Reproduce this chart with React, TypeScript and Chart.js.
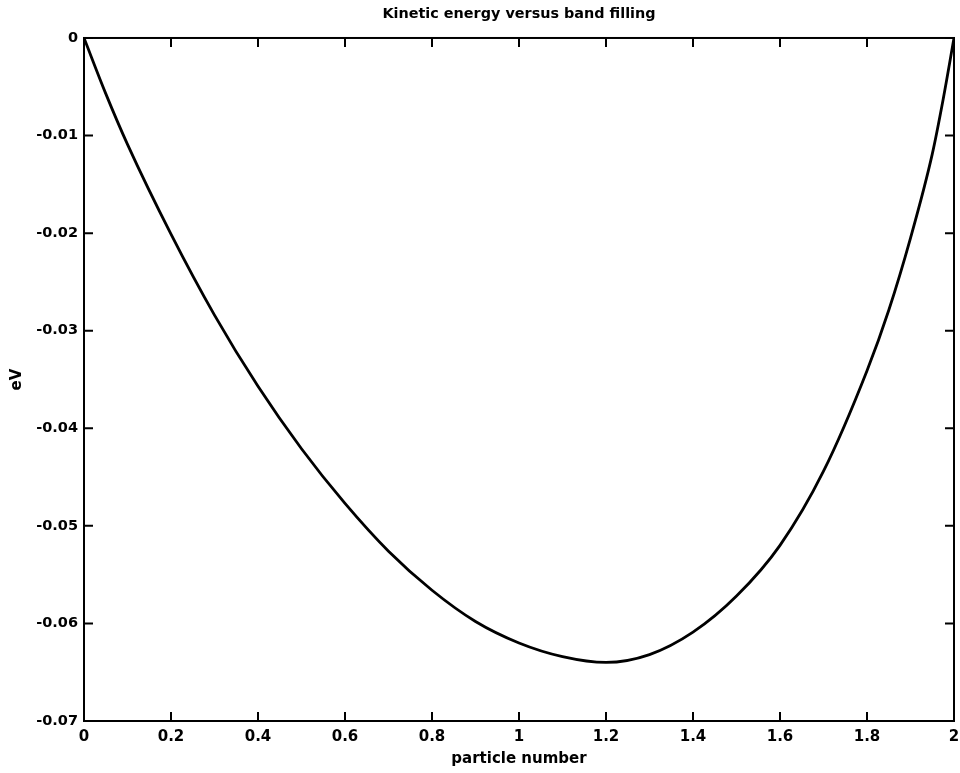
import { useEffect, useRef } from "react";
import { Chart, registerables } from "chart.js";

Chart.register(...registerables);

// Band filling (particles per site) and the kinetic energy per site in eV
const particleNumber = [
  0, 0.05, 0.1, 0.2, 0.3, 0.4, 0.5, 0.6, 0.7, 0.8, 0.9, 1.0, 1.1, 1.2, 1.3,
  1.4, 1.5, 1.6, 1.7, 1.8, 1.85, 1.9, 1.95, 1.975, 2.0,
];
const kineticEnergy = [
  0, -0.0057, -0.0109, -0.0201, -0.0284, -0.0357, -0.0421, -0.0477, -0.0526,
  -0.0566, -0.0598, -0.062, -0.0634, -0.064, -0.0632, -0.0609, -0.0572,
  -0.052, -0.0444, -0.0341, -0.0279, -0.0205, -0.0119, -0.0063, 0,
];

const xTickValues = [0, 0.2, 0.4, 0.6, 0.8, 1, 1.2, 1.4, 1.6, 1.8, 2];
const xTickLabels = ["0", "0.2", "0.4", "0.6", "0.8", "1", "1.2", "1.4", "1.6", "1.8", "2"];
const yTickValues = [-0.07, -0.06, -0.05, -0.04, -0.03, -0.02, -0.01, 0];
const yTickLabels = ["-0.07", "-0.06", "-0.05", "-0.04", "-0.03", "-0.02", "-0.01", "0"];

const FONT = "'DejaVu Sans', sans-serif";

// Boxed axes with inward tick marks on all four sides
const boxFrame = {
  id: "boxFrame",
  afterDatasetsDraw(chart: any) {
    const { ctx, chartArea, scales } = chart;
    const { left, right, top, bottom } = chartArea;
    const len = 9;
    ctx.save();
    ctx.strokeStyle = "#000";
    ctx.lineWidth = 2;
    ctx.strokeRect(left, top, right - left, bottom - top);
    ctx.beginPath();
    xTickValues.forEach((v) => {
      const px = scales.x.getPixelForValue(v);
      ctx.moveTo(px, bottom);
      ctx.lineTo(px, bottom - len);
      ctx.moveTo(px, top);
      ctx.lineTo(px, top + len);
    });
    yTickValues.forEach((v) => {
      const py = scales.y.getPixelForValue(v);
      ctx.moveTo(left, py);
      ctx.lineTo(left + len, py);
      ctx.moveTo(right, py);
      ctx.lineTo(right - len, py);
    });
    ctx.stroke();
    ctx.restore();
  },
};

export default function App() {
  const canvasRef = useRef<HTMLCanvasElement | null>(null);

  useEffect(() => {
    document.body.style.margin = "0";
    const canvas = canvasRef.current;
    if (!canvas) return;
    const chart = new Chart(canvas, {
      type: "line",
      data: {
        datasets: [
          {
            data: particleNumber.map((x, i) => ({ x, y: kineticEnergy[i] })),
            borderColor: "#000",
            borderWidth: 2.8,
            pointRadius: 0,
            fill: false,
            cubicInterpolationMode: "monotone",
          },
        ],
      },
      options: {
        animation: false,
        responsive: true,
        maintainAspectRatio: false,
        layout: { padding: 0 },
        plugins: {
          legend: { display: false },
          tooltip: { enabled: false },
          title: {
            display: true,
            text: "Kinetic energy versus band filling",
            color: "#000",
            fullSize: false,
            font: { family: FONT, size: 14.4, weight: "bold" },
            padding: { top: 5.4, bottom: 15.3 },
          },
        },
        scales: {
          x: {
            type: "linear",
            min: 0,
            max: 2,
            afterBuildTicks: (scale: any) => {
              scale.ticks = xTickValues.map((value) => ({ value }));
            },
            afterFit: (scale: any) => {
              scale.height = 52;
              scale.paddingLeft = 0;
              scale.paddingRight = 6;
            },
            grid: { display: false, drawTicks: false },
            border: { display: false },
            ticks: {
              color: "#000",
              padding: 7,
              maxRotation: 0,
              autoSkip: false,
              font: { family: FONT, size: 15, weight: "bold" },
              callback: (_v: any, i: number) => xTickLabels[i],
            },
            title: {
              display: true,
              text: "particle number",
              color: "#000",
              font: { family: FONT, size: 15, weight: "bold" },
              padding: { top: 0, bottom: 5 },
            },
          },
          y: {
            type: "linear",
            min: -0.07,
            max: 0,
            afterBuildTicks: (scale: any) => {
              scale.ticks = yTickValues.map((value) => ({ value }));
            },
            afterFit: (scale: any) => {
              scale.width = 84;
              scale.paddingTop = 0;
              scale.paddingBottom = 0;
            },
            grid: { display: false, drawTicks: false },
            border: { display: false },
            ticks: {
              color: "#000",
              padding: 6,
              autoSkip: false,
              font: { family: FONT, size: 14.5, weight: "bold" },
              callback: (_v: any, i: number) => yTickLabels[i],
            },
            title: {
              display: true,
              text: "eV",
              color: "#000",
              font: { family: FONT, size: 15, weight: "bold" },
              padding: { top: 8, bottom: 0 },
            },
          },
        },
      },
      plugins: [boxFrame],
    });
    return () => chart.destroy();
  }, []);

  return (
    <div style={{ position: "absolute", left: 0, top: 0, width: 960, height: 773, background: "#fff" }}>
      <canvas ref={canvasRef} />
    </div>
  );
}
